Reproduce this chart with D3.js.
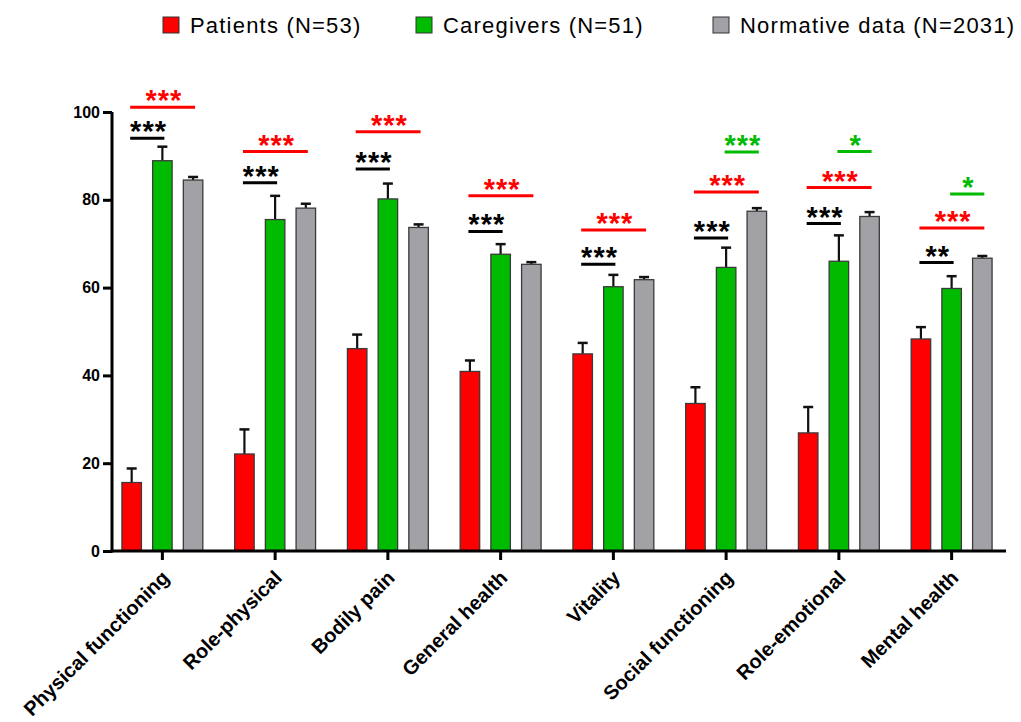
<!DOCTYPE html>
<html>
<head>
<meta charset="utf-8">
<script src="https://cdn.jsdelivr.net/npm/d3@7"></script>
<style>
  body { margin: 0; background: #fff; }
  svg { display: block; font-family: "Liberation Sans", Arial, sans-serif; }
</style>
</head>
<body>
<svg id="chart" width="1021" height="722"></svg>
<script>
// SF-36 domains
var categories = ["Physical functioning", "Role-physical", "Bodily pain", "General health",
                  "Vitality", "Social functioning", "Role-emotional", "Mental health"];
var seriesNames = ["Patients (N=53)", "Caregivers (N=51)", "Normative data (N=2031)"];
var seriesColors = ["#ff0000", "#00bb00", "#a2a1a6"];

var patients      = [15.6, 22.1, 46.1, 40.9, 44.9, 33.6, 26.9, 48.3];
var patientsErr   = [3.2, 5.6, 3.2, 2.5, 2.5, 3.7, 5.9, 2.7];
var caregivers    = [88.9, 75.5, 80.2, 67.6, 60.2, 64.6, 66.0, 59.8];
var caregiversErr = [3.2, 5.4, 3.5, 2.3, 2.7, 4.5, 5.9, 2.8];
var normative     = [84.5, 78.1, 73.7, 65.3, 61.8, 77.4, 76.2, 66.7];
var normativeErr  = [0.7, 1.0, 0.7, 0.5, 0.6, 0.7, 1.0, 0.5];

var yTicks = [0, 20, 40, 60, 80, 100];

// significance brackets: patients vs caregivers (black), patients vs normative (red),
// caregivers vs normative (green)
var sigPC     = [94.0, 83.9, 87.0, 72.8, 65.3, 71.3, 74.6, 65.7];
var sigPCText = ["***", "***", "***", "***", "***", "***", "***", "**"];
var sigPN     = [101.1, 91.0, 95.5, 80.9, 73.1, 81.8, 82.8, 73.6];
var sigPNText = ["***", "***", "***", "***", "***", "***", "***", "***"];
var sigCNGroups = ["Social functioning", "Role-emotional", "Mental health"];
var sigCN       = [90.9, 91.0, 81.3];
var sigCNText   = ["***", "*", "*"];

var svg = d3.select("#chart");

var x = d3.scaleBand()
    .domain(categories)
    .range([106, 1008]);

var xs = d3.scalePoint()
    .domain(seriesNames)
    .range([-30.7, 30.7]);

var y = d3.scaleLinear()
    .domain([0, 100])
    .range([551, 112]);

var barW = 19.5;
var values = [patients, caregivers, normative];
var errs = [patientsErr, caregiversErr, normativeErr];

var rows = [];
categories.forEach(function (c, i) {
    seriesNames.forEach(function (s, j) {
        rows.push({cat: c, series: s, idx: j, value: values[j][i], err: errs[j][i]});
    });
});

function cx(d) {
    return x(d.cat) + x.bandwidth() / 2 + xs(d.series);
}

// error bars (upper only)
var eb = svg.append("g").attr("class", "errbars");
eb.selectAll("line.stem")
    .data(rows)
    .enter().append("line")
    .attr("class", "stem")
    .attr("x1", cx).attr("x2", cx)
    .attr("y1", function (d) { return y(d.value); })
    .attr("y2", function (d) { return y(d.value + d.err); })
    .attr("stroke", "#111").attr("stroke-width", 2.2);
eb.selectAll("line.cap")
    .data(rows)
    .enter().append("line")
    .attr("class", "cap")
    .attr("x1", function (d) { return cx(d) - 5; })
    .attr("x2", function (d) { return cx(d) + 5; })
    .attr("y1", function (d) { return y(d.value + d.err); })
    .attr("y2", function (d) { return y(d.value + d.err); })
    .attr("stroke", "#111").attr("stroke-width", 2.5);

// bars
svg.append("g")
    .selectAll("rect")
    .data(rows)
    .enter().append("rect")
    .attr("x", function (d) { return cx(d) - barW / 2; })
    .attr("y", function (d) { return y(d.value); })
    .attr("width", barW)
    .attr("height", function (d) { return y(0) - y(d.value); })
    .attr("fill", function (d) { return seriesColors[d.idx]; })
    .attr("stroke", "#3a3a3a")
    .attr("stroke-width", 1.3);

// axes
var yAxis = svg.append("g")
    .attr("transform", "translate(112,0)")
    .call(d3.axisLeft(y).tickValues(yTicks).tickSize(9).tickPadding(3));
yAxis.select(".domain").attr("stroke-width", 3).attr("d", "M0," + (y(0) + 1.5) + "V" + y(100));
yAxis.selectAll(".tick line").attr("stroke-width", 3);
yAxis.selectAll(".tick text")
    .attr("font-size", 16).attr("font-weight", "bold")
    .attr("font-family", "Liberation Sans, Arial, sans-serif").attr("fill", "#000");

var xAxis = svg.append("g")
    .attr("transform", "translate(0," + y(0) + ")")
    .call(d3.axisBottom(x).tickSize(9).tickFormat(""));
xAxis.select(".domain").attr("stroke-width", 3).attr("d", "M110.5,0H1006");
xAxis.selectAll(".tick line").attr("stroke-width", 3);

svg.append("g")
    .selectAll("text")
    .data(categories)
    .enter().append("text")
    .attr("transform", function (d) {
        return "translate(" + (x(d) + x.bandwidth() / 2 + 8) + "," + (y(0) + 28) + ") rotate(-45)";
    })
    .attr("text-anchor", "end")
    .attr("font-size", 20)
    .attr("font-weight", "bold")
    .attr("fill", "#000")
    .text(function (d) { return d; });

// significance markers
var sig = [];
categories.forEach(function (c, i) {
    sig.push({cat: c, a: seriesNames[0], b: seriesNames[1], v: sigPC[i], t: sigPCText[i], color: "#000"});
    sig.push({cat: c, a: seriesNames[0], b: seriesNames[2], v: sigPN[i], t: sigPNText[i], color: "#ff0000"});
});
sigCNGroups.forEach(function (c, i) {
    sig.push({cat: c, a: seriesNames[1], b: seriesNames[2], v: sigCN[i], t: sigCNText[i], color: "#00bb00"});
});

var sg = svg.append("g").attr("class", "sig");
sg.selectAll("line")
    .data(sig)
    .enter().append("line")
    .attr("x1", function (d) { return x(d.cat) + x.bandwidth() / 2 + xs(d.a) - 1.5; })
    .attr("x2", function (d) { return x(d.cat) + x.bandwidth() / 2 + xs(d.b) + 2; })
    .attr("y1", function (d) { return y(d.v); })
    .attr("y2", function (d) { return y(d.v); })
    .attr("stroke", function (d) { return d.color; })
    .attr("stroke-width", 3);
sg.selectAll("text")
    .data(sig)
    .enter().append("text")
    .attr("x", function (d) {
        return x(d.cat) + x.bandwidth() / 2 + (xs(d.a) + xs(d.b)) / 2 + 1.5;
    })
    .attr("y", function (d) { return y(d.v) + 3; })
    .attr("text-anchor", "middle")
    .attr("font-size", 29)
    .attr("font-weight", "bold")
    .attr("letter-spacing", 1)
    .attr("fill", function (d) { return d.color; })
    .text(function (d) { return d.t; });

// legend
var legendX = [163, 416, 713];
var lg = svg.append("g").attr("class", "legend")
    .selectAll("g")
    .data(seriesNames)
    .enter().append("g")
    .attr("transform", function (d, i) { return "translate(" + legendX[i] + ",0)"; });
lg.append("rect")
    .attr("x", 0).attr("y", 17)
    .attr("width", 16).attr("height", 16)
    .attr("fill", function (d, i) { return seriesColors[i]; })
    .attr("stroke", "#333").attr("stroke-width", 1);
lg.append("text")
    .attr("x", 27).attr("y", 33)
    .attr("font-size", 22)
    .attr("letter-spacing", 1.2)
    .attr("fill", "#000")
    .text(function (d) { return d; });
</script>
</body>
</html>
